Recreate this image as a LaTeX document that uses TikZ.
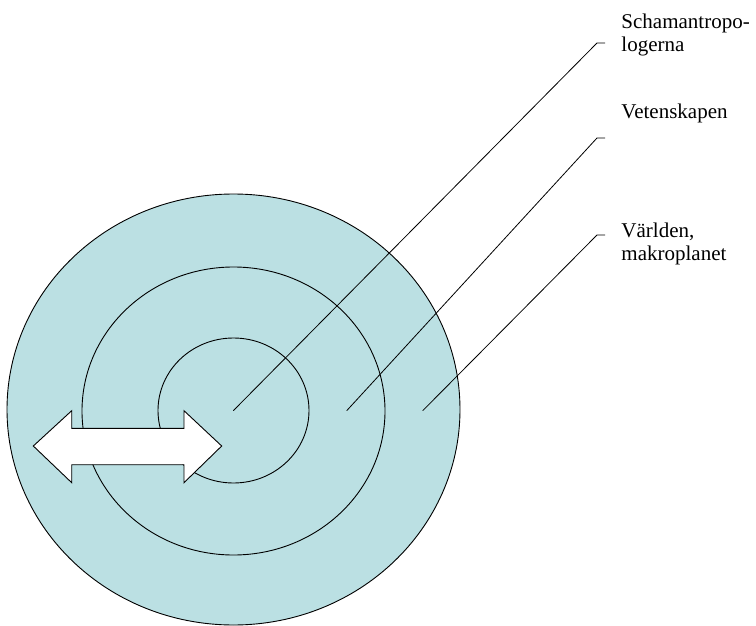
\documentclass[tikz,border=0pt]{standalone}
\usepackage{fontspec}
\setmainfont{Liberation Serif}
\usepackage{tikz}
\usetikzlibrary{positioning,calc}
\definecolor{ringblue}{RGB}{187,224,227}

\begin{document}
\begin{tikzpicture}[x=1pt, y=-1pt, line width=0.9pt]
	\tikzstyle{ring}=[draw=black, fill=ringblue]
	\tikzstyle{lbl}=[anchor=base west, inner sep=0pt, align=left, font=\fontsize{21}{23}\selectfont]
	\tikzstyle{lead}=[draw=black, line width=0.8pt]
	\useasboundingbox (0,0) rectangle (756,626);

	% rings
	\path[ring] (233.5,409.5) ellipse (226.5 and 215.5);
	\path[ring] (233.5,411) ellipse (151.5 and 144);
	\path[ring] (233.5,410.5) ellipse (75.5 and 72.5);

	% labels (base of last line)
	\node[lbl]    (S) at (621,52)    {Schamantropo-\\logerna};
	\node[lbl]    (V) at (621,118)   {Vetenskapen};
	\node[lbl]    (W) at (621,260)   {Världen,\\makroplanet};

	\coordinate (S1) at (233.3,410.7);
	\coordinate (S2) at (597,43);
	\coordinate (S3) at (605,43);
	\coordinate (V1) at (346.7,410.7);
	\coordinate (V2) at (597,138);
	\coordinate (V3) at (605,138);
	\coordinate (W1) at (422.7,410.7);
	\coordinate (W2) at (597,235);
	\coordinate (W3) at (605,235);

	\path[lead] (S1) -- (S2) -- (S3);
	\path[lead] (V1) -- (V2) -- (V3);
	\path[lead] (W1) -- (W2) -- (W3);

	% double arrow
	\draw[fill=white] (33.3,446) -- (71.7,410.7) -- (71.7,428.3) -- (184,428.3)
		-- (184,410.7) -- (221.7,446) -- (184,482.7) -- (184,464.7)
		-- (71.7,464.7) -- (71.7,482.7) -- cycle;
\end{tikzpicture}
\end{document}
